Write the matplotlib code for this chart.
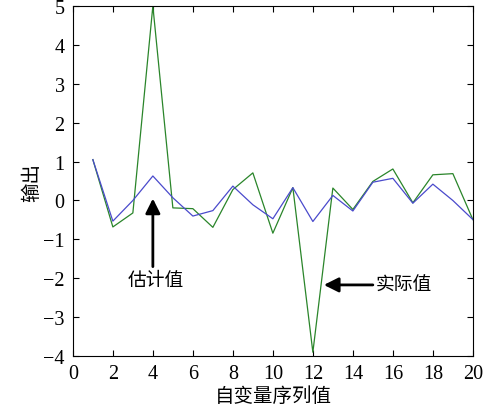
import matplotlib
matplotlib.use("Agg")
import matplotlib.pyplot as plt

# data
x_idx = list(range(1, 21))
actual = [1.05, -0.68, -0.32, 5.0, -0.19, -0.21, -0.69, 0.28, 0.71, -0.84,
          0.33, -3.9, 0.32, -0.23, 0.49, 0.81, -0.06, 0.66, 0.69, -0.49]
estimate = [1.05, -0.53, 0.0, 0.63, 0.07, -0.40, -0.26, 0.37, -0.11, -0.47,
            0.33, -0.54, 0.13, -0.27, 0.47, 0.57, -0.07, 0.42, 0.0, -0.49]
xticks = list(range(0, 21, 2))
yticks = list(range(-4, 6))

plt.rcParams['font.family'] = ['Liberation Serif', 'Noto Sans CJK SC']
plt.rcParams['axes.unicode_minus'] = True

fig = plt.figure(figsize=(4.89, 4.10), dpi=100)
ax = fig.add_axes([0.149, 0.129, 0.818, 0.854])

ax.plot(x_idx, actual, color="#2a852a", lw=0.9)
ax.plot(x_idx, estimate, color="#4a4acc", lw=0.9)

ax.set_xlim(0, 20)
ax.set_ylim(-4, 5)
ax.set_xticks(xticks)
ax.set_yticks(yticks)
ax.tick_params(direction="in", length=4, top=True, right=True, labelsize=14.5, pad=6)
for s in ax.spines.values():
    s.set_linewidth(0.8)

ax.set_xlabel("自变量序列值", fontsize=14, labelpad=2)
ax.set_ylabel("输出", fontsize=14, labelpad=1)

arrow = dict(arrowstyle="-|>", color="black", lw=2, mutation_scale=22, shrinkA=0, shrinkB=0)
ax.annotate("", xy=(4, 0.05), xytext=(4, -1.7), arrowprops=arrow)
ax.text(4.15, -2.05, "估计值", fontsize=13.5, ha="center", va="center")
ax.annotate("", xy=(12.55, -2.17), xytext=(15.0, -2.17), arrowprops=arrow)
ax.text(15.15, -2.17, "实际值", fontsize=13.5, ha="left", va="center")

fig.savefig("out.png", dpi=100)
plt.close(fig)
